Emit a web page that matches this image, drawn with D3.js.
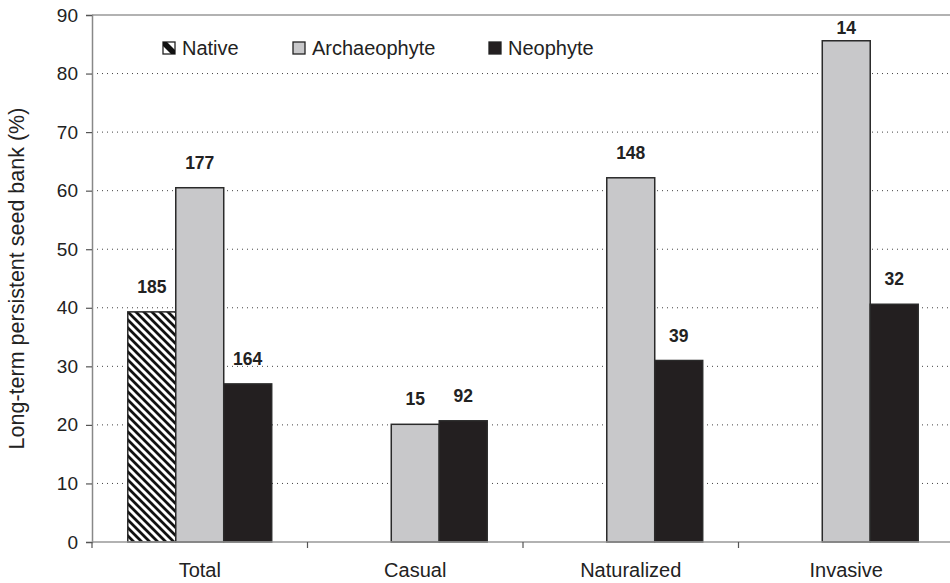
<!DOCTYPE html>
<html><head><meta charset="utf-8">
<script src="https://cdn.jsdelivr.net/npm/d3@7"></script>
<style>body{margin:0;background:#fff}svg{display:block;font-family:"Liberation Sans",Arial,Helvetica,sans-serif}</style>
</head><body><svg id="c" width="950" height="583"></svg>
<script>
const categories = ["Total", "Casual", "Naturalized", "Invasive"];
const seriesNames = ["Native", "Archaeophyte", "Neophyte"];
const nativeVals = [39.3, null, null, null];
const archaeoVals = [60.5, 20.1, 62.2, 85.6];
const neoVals = [27.0, 20.7, 31.0, 40.6];
const nativeN = [185, null, null, null];
const archaeoN = [177, 15, 148, 14];
const neoN = [164, 92, 39, 32];
const yTicks = [0, 10, 20, 30, 40, 50, 60, 70, 80, 90];

const svg = d3.select("#c");
const L = 92, R = 954, T = 15, B = 542;
const x = d3.scaleBand().domain(categories).range([L, R]).padding(0);
const xs = d3.scaleBand().domain(seriesNames).range([0, x.bandwidth()]).paddingInner(0).paddingOuter(0.746);
const y = d3.scaleLinear().domain([0, 90]).range([B, T]);

const defs = svg.append("defs");
const pat = defs.append("pattern").attr("id", "hatch").attr("patternUnits", "userSpaceOnUse")
  .attr("width", 8).attr("height", 8);
pat.append("rect").attr("width", 8).attr("height", 8).attr("fill", "#fff");
pat.append("path").attr("d", "M-2,-2 L10,10 M-2,6 L2,10 M6,-2 L10,2").attr("stroke", "#111").attr("stroke-width", 2.8);

// gridlines
svg.append("g").selectAll("line").data(yTicks.filter(d => d > 0 && d < 90)).join("line")
  .attr("x1", L).attr("x2", 950).attr("y1", d => y(d)).attr("y2", d => y(d))
  .attr("stroke", "#444").attr("stroke-width", 1).attr("stroke-dasharray", "1,4");
svg.append("line").attr("x1", L).attr("x2", 950).attr("y1", y(90)).attr("y2", y(90))
  .attr("stroke", "#999").attr("stroke-width", 1.5);

const seriesData = [
  {name: "Native", vals: nativeVals, ns: nativeN, fill: "url(#hatch)"},
  {name: "Archaeophyte", vals: archaeoVals, ns: archaeoN, fill: "#c8c8ca"},
  {name: "Neophyte", vals: neoVals, ns: neoN, fill: "#231f20"}
];
const bars = [];
seriesData.forEach(s => categories.forEach((c, i) => {
  if (s.vals[i] != null) bars.push({c, s: s.name, v: s.vals[i], n: s.ns[i], fill: s.fill});
}));

svg.append("g").selectAll("rect").data(bars).join("rect")
  .attr("x", d => x(d.c) + xs(d.s)).attr("width", xs.bandwidth())
  .attr("y", d => y(d.v)).attr("height", d => y(0) - y(d.v))
  .attr("fill", d => d.fill).attr("stroke", "#2a2a2a").attr("stroke-width", 1.5);

svg.append("g").selectAll("text").data(bars).join("text")
  .attr("x", d => x(d.c) + xs(d.s) + xs.bandwidth() / 2)
  .attr("y", d => Math.max(y(d.v) - 25, 28))
  .attr("dy", "0.35em").attr("text-anchor", "middle")
  .attr("font-size", 17.5).attr("font-weight", "bold").attr("fill", "#222")
  .text(d => d.n);

// axes
const yAxis = d3.axisLeft(y).tickValues(yTicks).tickSize(6).tickPadding(8);
const gy = svg.append("g").attr("transform", `translate(${L},0)`).call(yAxis);
gy.select(".domain").attr("stroke", "#888").attr("stroke-width", 1.5);
gy.selectAll(".tick line").attr("stroke", "#555").attr("stroke-width", 1.2);
gy.selectAll(".tick text").attr("font-size", 19).attr("fill", "#222").attr("font-family", null);

svg.append("line").attr("x1", L).attr("x2", 950).attr("y1", y(0)).attr("y2", y(0))
  .attr("stroke", "#999").attr("stroke-width", 1.5);
const bounds = categories.map(c => x(c)).concat([x(categories[categories.length - 1]) + x.bandwidth()]);
svg.append("g").selectAll("line").data(bounds).join("line")
  .attr("x1", d => d).attr("x2", d => d).attr("y1", y(0)).attr("y2", y(0) + 6)
  .attr("stroke", "#555").attr("stroke-width", 1.2);
svg.append("g").selectAll("text").data(categories).join("text")
  .attr("x", d => x(d) + x.bandwidth() / 2).attr("y", 577)
  .attr("text-anchor", "middle").attr("font-size", 20).attr("fill", "#222").text(d => d);

svg.append("text").attr("transform", `translate(24,${(T + B) / 2}) rotate(-90)`)
  .attr("text-anchor", "middle").attr("font-size", 21.5).attr("fill", "#222")
  .text("Long-term persistent seed bank (%)");

// legend
const legendX = [163, 293, 489];
const lg = svg.append("g").selectAll("g").data(seriesData).join("g")
  .attr("transform", (d, i) => `translate(${legendX[i]},42)`);
lg.append("rect").attr("width", 12).attr("height", 12)
  .attr("fill", d => d.name === "Native" ? "#fff" : d.fill).attr("stroke", "#222").attr("stroke-width", 1.3);
lg.filter(d => d.name === "Native").append("path")
  .attr("d", "M0,0 L4,0 L12,8 L12,12 L8,12 L0,4 Z").attr("fill", "#111");
lg.append("text").attr("x", 19).attr("y", 6).attr("dy", "0.36em")
  .attr("font-size", 20).attr("fill", "#222").text(d => d.name);
</script></body></html>
